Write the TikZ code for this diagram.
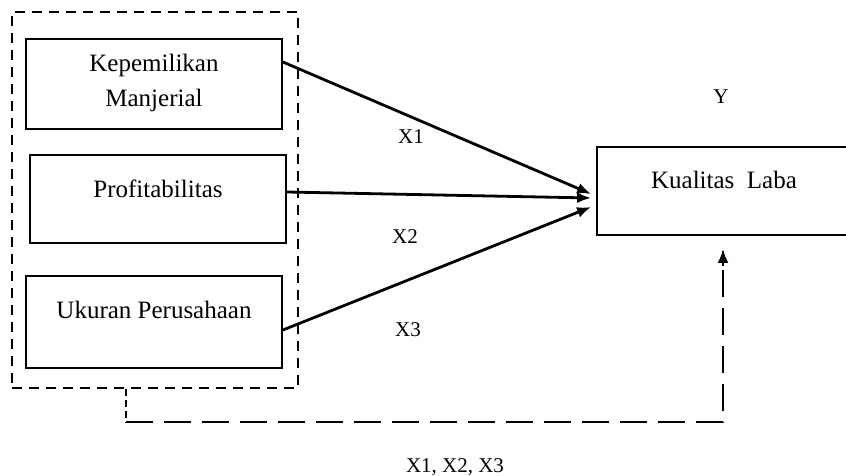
\documentclass[tikz,border=0pt]{standalone}
\usepackage{fontspec}
\setmainfont{Liberation Serif}
\usepackage{tikz}
\usetikzlibrary{arrows.meta}
\usetikzlibrary{positioning}

\begin{document}
\begin{tikzpicture}
    [
    x=1pt,y=-1pt,
    varbox/.style={rectangle,draw,line width=1.8pt,minimum width=256pt,align=center,font=\fontsize{25}{35}\selectfont},
    grpbox/.style={rectangle,draw,dashed,line width=1.8pt,dash pattern=on 10pt off 7pt,minimum width=286pt,minimum height=376pt},
    lbl/.style={font=\fontsize{21}{24}\selectfont},
    arr/.style={-{Latex[length=14pt,width=11pt]},line width=2.8pt},
    fb/.style={line width=2.8pt,dash pattern=on 27pt off 11pt},
    ]
    \useasboundingbox (0,0) rectangle (846,476);
    \clip (0,0) rectangle (846,476);

    \node (grp) at (155,200) [grpbox] {};
    \node (km) at (154,84) [varbox,minimum height=90pt,text depth=8pt] {Kepemilikan\\Manjerial};
    \node (prof) at (158,199) [varbox,minimum height=88pt,text depth=20pt] {Profitabilitas};
    \node (uk) at (154,322) [varbox,minimum height=92pt,text depth=24pt] {Ukuran Perusahaan};
    \node (kl) at (724,191) [varbox,minimum width=254pt,minimum height=88pt,text depth=22pt] {Kualitas\hspace{0.5em}Laba};

    \node (y) at (721,97) [lbl] {Y};
    \node (x1) at (411,137) [lbl] {X1};
    \node (x2) at (405,237) [lbl] {X2};
    \node (x3) at (408,330) [lbl] {X3};
    \node (xall) at (455,467) [lbl] {X1, X2, X3};

    \draw [arr] ([yshift=22pt]km.east) to ([yshift=-3pt,xshift=-5pt]kl.west);
    \draw [arr] ([yshift=7pt]prof.east) to ([yshift=-7pt,xshift=-5pt]kl.west);
    \draw [arr] ([yshift=-8pt]uk.east) to ([yshift=-16pt,xshift=-5pt]kl.west);

    \coordinate (c1) at (126,422);
    \coordinate (c2) at (723,422);
    \draw [line width=1.4pt,dash pattern=on 7pt off 4pt] (grp.south -| c1) -- (c1);
    \draw [fb] (c1) -- (c2) -- ([yshift=-15pt]kl.south -| c2);
    \draw [arr] ([yshift=-30pt]kl.south -| c2) -- ([yshift=-13pt]kl.south -| c2);
  \end{tikzpicture}
\end{document}
